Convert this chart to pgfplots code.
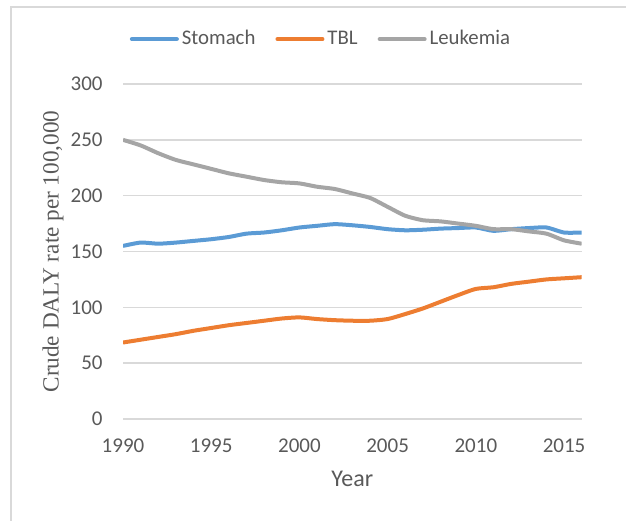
\documentclass[border=0pt]{standalone}
\usepackage{fontspec}
\setmainfont{Carlito}
\newfontfamily\serif{Liberation Serif}
\usepackage{pgfplots}
\pgfplotsset{compat=1.18}

\definecolor{cblue}{HTML}{5B9BD5}
\definecolor{corange}{HTML}{ED7D31}
\definecolor{cgray}{HTML}{A5A5A5}
\definecolor{gridgray}{HTML}{D9D9D9}
\definecolor{txt}{HTML}{595959}

\begin{document}
\begin{tikzpicture}
\path[use as bounding box] (0,0) rectangle (313pt,260pt);
% chart frame (left and top edges visible)
\draw[gridgray, line width=0.75pt] (5.5pt,-2pt) -- (5.5pt,256.5pt) -- (315pt,256.5pt);

\begin{axis}[
    at={(61.5pt,50.5pt)}, anchor=origin,
    scale only axis,
    width=229.35pt, height=167.5pt,
    xmin=1990, xmax=2016,
    ymin=0, ymax=300,
    xtick={1990,1995,...,2015},
    ytick={0,50,...,300},
    /pgf/number format/assume math mode=true,
    /pgf/number format/set thousands separator={},
    axis x line*=bottom, axis y line*=left,
    x axis line style={gridgray, line width=0.75pt},
    y axis line style={draw=none},
    major tick length=0pt,
    ymajorgrids=true,
    grid style={gridgray, line width=0.75pt},
    tick label style={font=\fontsize{10.5}{12}\selectfont, text=txt, inner sep=0pt},
    xticklabel style={anchor=center, yshift=-13.25pt},
    yticklabel style={anchor=east, xshift=-10pt},
    xlabel={Year},
    xlabel style={at={(axis description cs:0.5,-0.1791)}, anchor=center, inner sep=0pt,
        font=\fontsize{12}{14}\selectfont, text=txt},
    ylabel={Crude DALY rate per 100,000},
    ylabel style={at={(axis description cs:-0.1526,0.5)}, anchor=center, inner sep=0pt,
        font=\serif\fontsize{11.6}{13}\selectfont, text=txt},
    legend columns=3,
    legend style={at={(0.4295,1.134)}, anchor=center, draw=none, fill=none,
        inner sep=0pt, column sep=1.5pt,
        font=\fontsize{10.4}{13}\selectfont, text=txt,
        nodes={inner sep=0pt},
        /tikz/every even column/.append style={column sep=10pt}},
    legend image code/.code={\draw[#1, line width=2pt, line cap=round] (0pt,0pt) -- (22.5pt,0pt);},
    every axis plot/.append style={line width=2pt, smooth, tension=0.4, no markers},
]
% Stomach
\addplot[cblue] coordinates {
    (1990,155) (1991,158) (1992,157) (1993,158) (1994,159.5) (1995,161)
    (1996,163) (1997,166) (1998,167) (1999,169) (2000,171.5) (2001,173)
    (2002,174.5) (2003,173.5) (2004,172) (2005,170) (2006,169) (2007,169.5)
    (2008,170.5) (2009,171) (2010,171.5) (2011,168.5) (2012,170) (2013,171)
    (2014,171.5) (2015,167) (2016,167)
};
% TBL
\addplot[corange] coordinates {
    (1990,68.5) (1991,71) (1992,73.5) (1993,76) (1994,79) (1995,81.5)
    (1996,84) (1997,86) (1998,88) (1999,90) (2000,91) (2001,89.5)
    (2002,88.5) (2003,88) (2004,88) (2005,89.5) (2006,94) (2007,99)
    (2008,105) (2009,111) (2010,116.5) (2011,118) (2012,121) (2013,123)
    (2014,125) (2015,126) (2016,127)
};
% Leukemia
\addplot[cgray] coordinates {
    (1990,250) (1991,245) (1992,238) (1993,232) (1994,228) (1995,224)
    (1996,220) (1997,217) (1998,214) (1999,212) (2000,211) (2001,208)
    (2002,206) (2003,202) (2004,198) (2005,190) (2006,182) (2007,178)
    (2008,177) (2009,175) (2010,173) (2011,170) (2012,170) (2013,168)
    (2014,166) (2015,160) (2016,157)
};
\legend{Stomach, TBL, Leukemia}
\end{axis}
\end{tikzpicture}
\end{document}
